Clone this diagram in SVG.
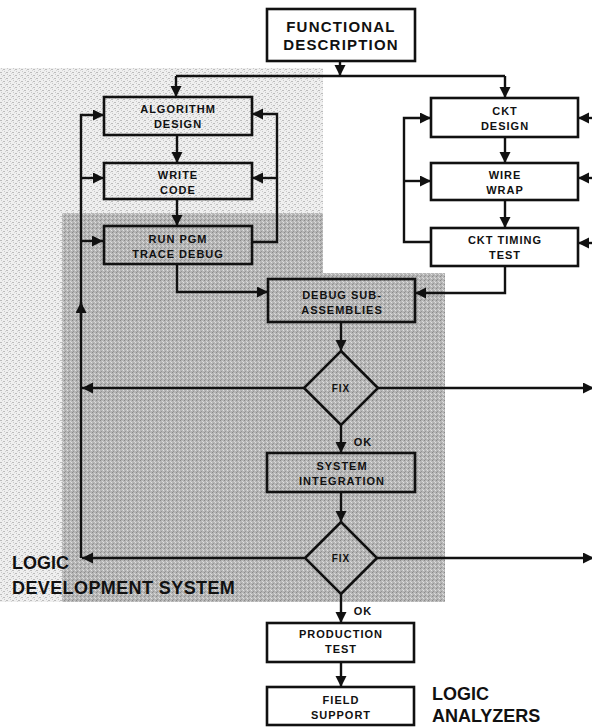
<svg xmlns="http://www.w3.org/2000/svg" width="592" height="727" viewBox="0 0 592 727">
<style>
.bx{fill:none;stroke:#111;stroke-width:2.6}
.ln{fill:none;stroke:#111;stroke-width:2.4;stroke-linejoin:miter}
.t{font-family:"Liberation Sans",Arial,sans-serif;font-weight:bold;font-size:11px;letter-spacing:1px;fill:#111;text-anchor:middle}
.big{font-family:"Liberation Sans",Arial,sans-serif;font-weight:bold;font-size:18px;fill:#111}
</style>
<defs>
<marker id="ah" markerUnits="userSpaceOnUse" markerWidth="12" markerHeight="12" refX="11" refY="5.5" orient="auto">
<path d="M0,0 L11,5.5 L0,11 z" fill="#111"/>
</marker>
<pattern id="lite" width="6" height="6" patternUnits="userSpaceOnUse">
<rect width="6" height="6" fill="#efefef"/>
<rect x="0" y="0" width="2" height="1" fill="#bcbcbc"/>
<rect x="3" y="3" width="2" height="1" fill="#bcbcbc"/>
<rect x="1" y="2" width="1" height="1" fill="#cacaca"/>
<rect x="4" y="5" width="1" height="1" fill="#cacaca"/>
<rect x="5" y="1" width="1" height="1" fill="#d6d6d6"/>
<rect x="2" y="4" width="1" height="1" fill="#d6d6d6"/>
</pattern>
<pattern id="dark" width="4" height="4" patternUnits="userSpaceOnUse">
<rect width="4" height="4" fill="#b6b6b6"/>
<rect x="0" y="0" width="1" height="1" fill="#8a8a8a"/>
<rect x="2" y="1" width="1" height="1" fill="#d8d8d8"/>
<rect x="1" y="3" width="1" height="1" fill="#969696"/>
<rect x="3" y="2" width="1" height="1" fill="#e0e0e0"/>
</pattern>
</defs>
<rect width="592" height="727" fill="#fff"/>
<g id="shading">
<path d="M0,68 H323 V213 H62 V602 H0 Z" fill="url(#lite)"/>
<path d="M62,213 H323 V273 H445 V602 H62 Z" fill="url(#dark)"/>
</g>
<g id="connectors">
<path class="ln" d="M340,61 V76" marker-end="url(#ah)"/>
<path class="ln" d="M176,76 H505"/>
<path class="ln" d="M176,76 V97" marker-end="url(#ah)"/>
<path class="ln" d="M505,76 V98" marker-end="url(#ah)"/>
<path class="ln" d="M177,135 V163" marker-end="url(#ah)"/>
<path class="ln" d="M177,199 V226" marker-end="url(#ah)"/>
<path class="ln" d="M177,264 V292 H268" marker-end="url(#ah)"/>
<path class="ln" d="M81,558 V115 H104" marker-end="url(#ah)"/>
<path class="ln" d="M81,178 H104" marker-end="url(#ah)"/>
<path class="ln" d="M81,241 H103" marker-end="url(#ah)"/>
<path class="ln" d="M81,320 V302" marker-end="url(#ah)"/>
<path class="ln" d="M252,242 H277 V114 H252" marker-end="url(#ah)"/>
<path class="ln" d="M277,178 H252" marker-end="url(#ah)"/>
<path class="ln" d="M505,137 V163" marker-end="url(#ah)"/>
<path class="ln" d="M505,200 V228" marker-end="url(#ah)"/>
<path class="ln" d="M505,266 V293 H415" marker-end="url(#ah)"/>
<path class="ln" d="M431,242 H404 V118 H431" marker-end="url(#ah)"/>
<path class="ln" d="M404,181 H431" marker-end="url(#ah)"/>
<path class="ln" d="M594,118 H578" marker-end="url(#ah)"/>
<path class="ln" d="M594,178 H578" marker-end="url(#ah)"/>
<path class="ln" d="M594,243 H578" marker-end="url(#ah)"/>
<path class="ln" d="M341,322 V351" marker-end="url(#ah)"/>
<path class="ln" d="M304,388 H82" marker-end="url(#ah)"/>
<path class="ln" d="M377,388 H594" marker-end="url(#ah)"/>
<path class="ln" d="M341,425 V453" marker-end="url(#ah)"/>
<path class="ln" d="M341,492 V522" marker-end="url(#ah)"/>
<path class="ln" d="M304,558 H82" marker-end="url(#ah)"/>
<path class="ln" d="M377,558 H594" marker-end="url(#ah)"/>
<path class="ln" d="M341,594 V623" marker-end="url(#ah)"/>
<path class="ln" d="M341,662 V687" marker-end="url(#ah)"/>
<text class="t" x="363" y="446">OK</text>
<text class="t" x="363" y="615">OK</text>
</g>
<g id="functional">
<rect class="bx" x="267" y="9" width="148" height="52"/>
<text class="t" x="341" y="32" style="font-size:15px;letter-spacing:1.2px">FUNCTIONAL</text>
<text class="t" x="341" y="50" style="font-size:15px;letter-spacing:1.2px">DESCRIPTION</text>
</g>
<g id="algorithm">
<rect class="bx" x="104" y="97" width="148" height="38"/>
<text class="t" x="178" y="113">ALGORITHM</text>
<text class="t" x="178" y="128">DESIGN</text>
</g>
<g id="writecode">
<rect class="bx" x="104" y="163" width="148" height="36"/>
<text class="t" x="178" y="179">WRITE</text>
<text class="t" x="178" y="194">CODE</text>
</g>
<g id="runpgm">
<rect class="bx" x="104" y="226" width="148" height="38"/>
<text class="t" x="178" y="243">RUN PGM</text>
<text class="t" x="178" y="258">TRACE DEBUG</text>
</g>
<g id="cktdesign">
<rect class="bx" x="431" y="98" width="147" height="39"/>
<text class="t" x="505" y="115">CKT</text>
<text class="t" x="505" y="130">DESIGN</text>
</g>
<g id="wirewrap">
<rect class="bx" x="431" y="163" width="147" height="37"/>
<text class="t" x="505" y="179">WIRE</text>
<text class="t" x="505" y="194">WRAP</text>
</g>
<g id="ckttiming">
<rect class="bx" x="431" y="228" width="147" height="38"/>
<text class="t" x="505" y="244">CKT TIMING</text>
<text class="t" x="505" y="259">TEST</text>
</g>
<g id="debugsub">
<rect class="bx" x="268" y="279" width="147" height="43"/>
<text class="t" x="342" y="299">DEBUG SUB-</text>
<text class="t" x="342" y="314">ASSEMBLIES</text>
</g>
<g id="fix1">
<path class="bx" d="M341,351 L378,388 L341,425 L304,388 Z"/>
<text class="t" x="341" y="392" style="font-size:10px">FIX</text>
</g>
<g id="sysint">
<rect class="bx" x="267" y="453" width="148" height="39"/>
<text class="t" x="342" y="470">SYSTEM</text>
<text class="t" x="342" y="485">INTEGRATION</text>
</g>
<g id="fix2">
<path class="bx" d="M341,522 L377,558 L341,594 L305,558 Z"/>
<text class="t" x="341" y="562" style="font-size:10px">FIX</text>
</g>
<g id="prodtest">
<rect class="bx" x="267" y="623" width="147" height="39"/>
<text class="t" x="341" y="638">PRODUCTION</text>
<text class="t" x="341" y="653">TEST</text>
</g>
<g id="fieldsupport">
<rect class="bx" x="267" y="687" width="147" height="38"/>
<text class="t" x="341" y="704">FIELD</text>
<text class="t" x="341" y="719">SUPPORT</text>
</g>
<g id="labels">
<text class="big" x="12" y="569">LOGIC</text>
<text class="big" x="12" y="594" style="letter-spacing:0.4px">DEVELOPMENT SYSTEM</text>
<text class="big" x="432" y="700">LOGIC</text>
<text class="big" x="432" y="722">ANALYZERS</text>
</g>
</svg>
